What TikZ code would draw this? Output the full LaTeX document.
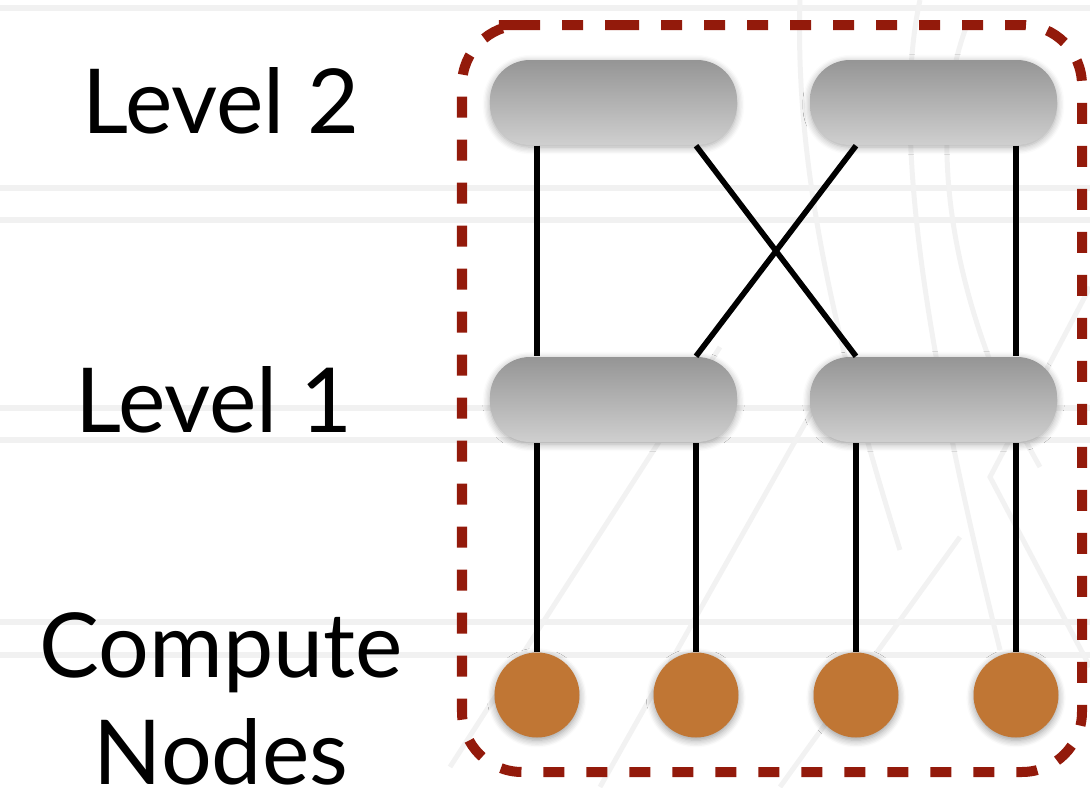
\documentclass[tikz,border=0pt]{standalone}
\usepackage{fontspec}
\setmainfont{Lato}
\usepackage{tikz}
\usetikzlibrary{calc,positioning,shadows.blur}
\definecolor{loopred}{HTML}{931A0B}
\definecolor{cpu}{HTML}{C07634}
\definecolor{swtop}{HTML}{959595}
\definecolor{swbot}{HTML}{CFCFCF}
\definecolor{ruling}{HTML}{F1F1F1}

\tikzset{
  switch/.style={rectangle, rounded corners=0.4cm, minimum width=2.47cm,
    minimum height=0.85cm, top color=swtop, bottom color=swbot,
    blur shadow={shadow blur steps=6, shadow xshift=0pt, shadow yshift=-0.6pt, shadow opacity=35}},
  cnode/.style={circle, fill=cpu, minimum size=0.85cm, inner sep=0pt,
    blur shadow={shadow blur steps=6, shadow xshift=0pt, shadow yshift=-0.8pt, shadow opacity=40}},
  link/.style={line width=1.6pt, black},
  lbl/.style={font=\fontsize{25.5}{30.4}\selectfont, align=center},
  faint/.style={black!5, line width=0.05cm},
}

\begin{document}
\begin{tikzpicture}
  \useasboundingbox (0,0) rectangle (10.9,7.87);
  % ruled paper behind everything
  \foreach \y in {7.79,5.99,5.67,3.79,3.47,1.65,1.32}
    \draw[ruling, line width=0.06cm] (0,\y) -- (10.9,\y);
  \draw[faint] (8.00,7.87) .. controls (7.95,6.3) and (8.3,4.6) .. (9.0,2.37);
  \draw[faint] (9.20,7.87) .. controls (8.9,6.5) and (9.3,4.2) .. (10.0,1.37);
  \draw[faint] (9.67,7.62) .. controls (9.2,6.4) and (9.6,4.6) .. (10.4,3.2);
  \draw[faint] (4.5,0.2) -- (7.2,4.4);
  \draw[faint] (6.0,0) -- (8.2,3.9);
  \draw[faint] (7.8,0) -- (9.6,2.5);
  \draw[faint] (10.9,5.0) -- (9.9,3.1) -- (10.9,1.2);

  % switches
  \node[switch] (s2a) at (6.135,6.845) {};
  \node[switch] (s2b) at (9.335,6.845) {};
  \node[switch] (s1a) at (6.135,3.875) {};
  \node[switch] (s1b) at (9.335,3.875) {};

  % compute nodes
  \foreach \x [count=\i] in {5.37,6.96,8.56,10.16}
    \node[cnode] (c\i) at (\x,0.92) {};

  % links
  \foreach \i/\s in {1/s1a,2/s1a,3/s1b,4/s1b}
    \draw[link] (c\i.north) -- (c\i |- \s.south);
  \draw[link] (s2a.south -| c1) -- (s1a.north -| c1);
  \draw[link] (s2b.south -| c4) -- (s1b.north -| c4);
  \draw[link] (s2a.south -| c2) -- (s1b.north -| c3);
  \draw[link] (s2b.south -| c3) -- (s1a.north -| c2);

  % the dashed enclosure
  \draw[loopred, line width=0.1cm, dash pattern=on 0.21cm off 0.22cm, rounded corners=0.6cm]
    (5.58,7.62) -- (10.82,7.62) -- (10.82,0.15) -- (4.62,0.15) -- (4.62,7.62) -- cycle;

  % level labels
  \node[lbl, anchor=base] (lvl2) at (2.21,6.54) {Level 2};
  \node[lbl, anchor=base] (lvl1) at (2.14,3.55) {Level 1};
  \node[lbl, anchor=base] (cmp) at (2.21,0.03) {Compute\\Nodes};
\end{tikzpicture}
\end{document}
